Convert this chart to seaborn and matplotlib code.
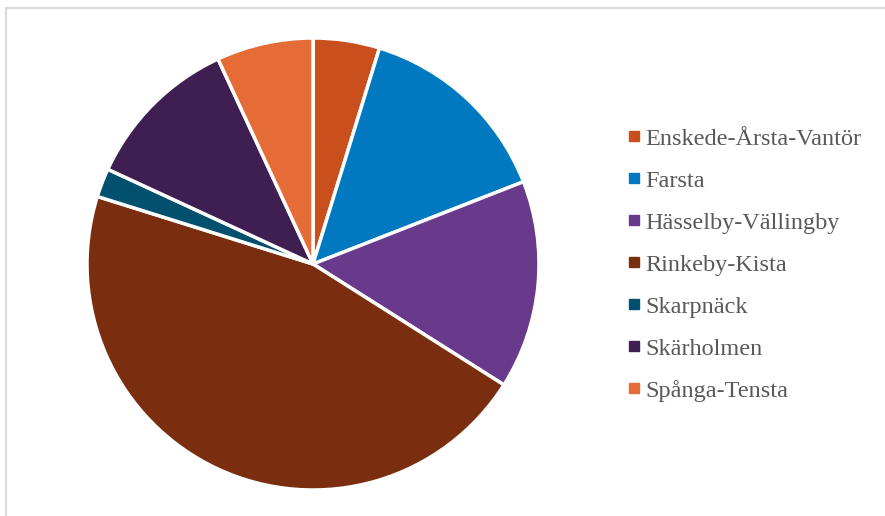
import matplotlib
matplotlib.use("Agg")
import matplotlib.pyplot as plt
from matplotlib.lines import Line2D
from matplotlib.patches import Rectangle
import seaborn as sns

categories = ["Enskede-Årsta-Vantör", "Farsta", "Hässelby-Vällingby", "Rinkeby-Kista",
              "Skarpnäck", "Skärholmen", "Spånga-Tensta"]
values = [4.75, 14.3, 14.9, 45.8, 2.05, 11.2, 6.9]
colors = ["#C9501C", "#0079C0", "#693A8C", "#7A2E0F", "#00506E", "#3F1F52", "#E66C37"]

sns.set_theme(style="white")
plt.rcParams['font.family'] = ['Liberation Serif', 'DejaVu Serif']

W, H = 885, 516
fig = plt.figure(figsize=(W / 100, H / 100), dpi=100)

# border (chart area cropped at right/bottom)
fig.add_artist(Rectangle((6 / W, -0.1), 1.2, (H - 8) / H + 0.1, transform=fig.transFigure,
                         fill=False, edgecolor="#D9D9D9", linewidth=1.5))

cx, cy, r = 313, 264, 226
ax = fig.add_axes([(cx - r) / W, (H - cy - r) / H, 2 * r / W, 2 * r / H])
ax.pie(values, colors=colors, startangle=90, counterclock=False,
       wedgeprops=dict(edgecolor="white", linewidth=2.5))
ax.set_xlim(-1, 1)
ax.set_ylim(-1, 1)
ax.set_aspect("equal")
ax.axis("off")

handles = [Line2D([0], [0], marker="s", linestyle="none", markersize=7,
                  markerfacecolor=c, markeredgecolor=c) for c in colors]
leg = fig.legend(handles, categories, loc="upper left",
                 bbox_to_anchor=(606 / W, 1 - 106 / H), frameon=False,
                 fontsize=17.5, labelspacing=0.82, handlelength=0.5, handletextpad=0.2,
                 labelcolor="#595959")

fig.savefig("out.png", dpi=100)
